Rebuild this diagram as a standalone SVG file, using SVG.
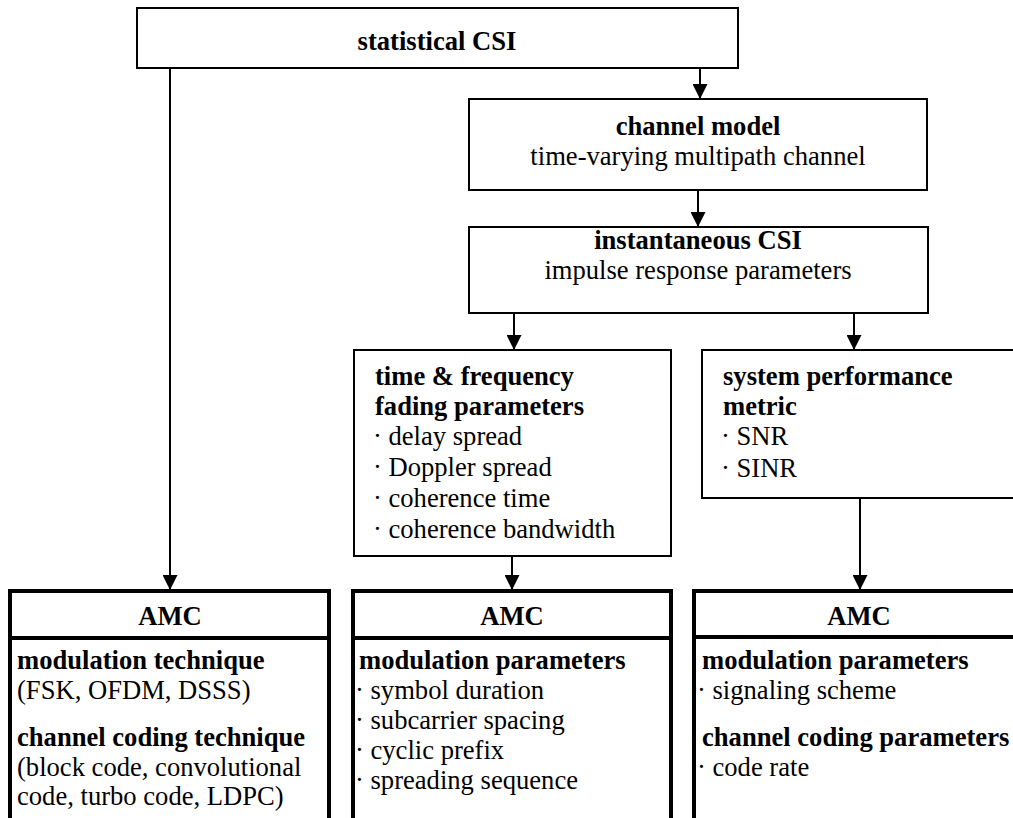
<svg xmlns="http://www.w3.org/2000/svg" width="1013" height="818" viewBox="0 0 1013 818">
<defs>
<marker id="ah" markerWidth="15" markerHeight="15" refX="15" refY="7.5" orient="auto" markerUnits="userSpaceOnUse">
<path d="M0,0 L15,7.5 L0,15 Z" fill="#000"/>
</marker>
<style>
text{font-family:"Liberation Serif","Times New Roman",serif;font-size:26.6px;fill:#000}
.b{font-weight:bold}
.c{text-anchor:middle}
.box{fill:#fff;stroke:#000;stroke-width:2}
.amc{fill:#fff;stroke:#000;stroke-width:4}
.con{stroke:#000;stroke-width:2;fill:none;marker-end:url(#ah)}
</style>
</defs>
<rect width="1013" height="818" fill="#fff"/>
<g id="connectors">
<line class="con" x1="170" y1="68" x2="170" y2="590"/>
<line class="con" x1="700" y1="68" x2="700" y2="99"/>
<line class="con" x1="698" y1="190" x2="698" y2="227"/>
<line class="con" x1="514" y1="313" x2="514" y2="350"/>
<line class="con" x1="854" y1="313" x2="854" y2="350"/>
<line class="con" x1="512" y1="556" x2="512" y2="590"/>
<line class="con" x1="860" y1="498" x2="860" y2="590"/>
</g>
<g id="statistical-csi">
<rect class="box" x="137" y="8" width="601" height="60"/>
<text class="b c" x="437" y="50">statistical CSI</text>
</g>
<g id="channel-model">
<rect class="box" x="469" y="99" width="458" height="91"/>
<text class="b c" x="698" y="135">channel model</text>
<text class="c" x="698" y="164.5">time-varying multipath channel</text>
</g>
<g id="instantaneous-csi">
<rect class="box" x="469" y="227" width="459" height="86"/>
<text class="b c" x="698" y="249">instantaneous CSI</text>
<text class="c" x="698" y="278.5">impulse response parameters</text>
</g>
<g id="fading-parameters">
<rect class="box" x="354" y="350" width="317" height="206"/>
<text class="b" x="375" y="385">time &amp; frequency</text>
<text class="b" x="375" y="415">fading parameters</text>
<text x="373" y="445">· delay spread</text>
<text x="373" y="476">· Doppler spread</text>
<text x="373" y="507">· coherence time</text>
<text x="373" y="538">· coherence bandwidth</text>
</g>
<g id="performance-metric">
<rect class="box" x="702" y="350" width="330" height="148"/>
<text class="b" x="723" y="385">system performance</text>
<text class="b" x="723" y="415">metric</text>
<text x="721" y="445">· SNR</text>
<text x="721" y="477">· SINR</text>
</g>
<g id="amc-1">
<rect class="amc" x="10" y="591" width="319" height="250"/>
<line x1="10" y1="638" x2="329" y2="638" stroke="#000" stroke-width="4"/>
<text class="b c" x="170" y="625">AMC</text>
<text class="b" x="17" y="669">modulation technique</text>
<text x="17" y="698.5">(FSK, OFDM, DSSS)</text>
<text class="b" x="17" y="746">channel coding technique</text>
<text x="17" y="775.5">(block code, convolutional</text>
<text x="17" y="805">code, turbo code, LDPC)</text>
</g>
<g id="amc-2">
<rect class="amc" x="353" y="591" width="318" height="250"/>
<line x1="353" y1="638" x2="671" y2="638" stroke="#000" stroke-width="4"/>
<text class="b c" x="512" y="625">AMC</text>
<text class="b" x="359" y="669">modulation parameters</text>
<text x="355" y="699">· symbol duration</text>
<text x="355" y="729">· subcarrier spacing</text>
<text x="355" y="759">· cyclic prefix</text>
<text x="355" y="789">· spreading sequence</text>
</g>
<g id="amc-3">
<rect class="amc" x="694" y="591" width="340" height="250"/>
<line x1="694" y1="637" x2="1034" y2="637" stroke="#000" stroke-width="4"/>
<text class="b c" x="859" y="625">AMC</text>
<text class="b" x="702" y="669">modulation parameters</text>
<text x="697" y="699">· signaling scheme</text>
<text class="b" x="702" y="746">channel coding parameters</text>
<text x="697" y="776">· code rate</text>
</g>
</svg>
